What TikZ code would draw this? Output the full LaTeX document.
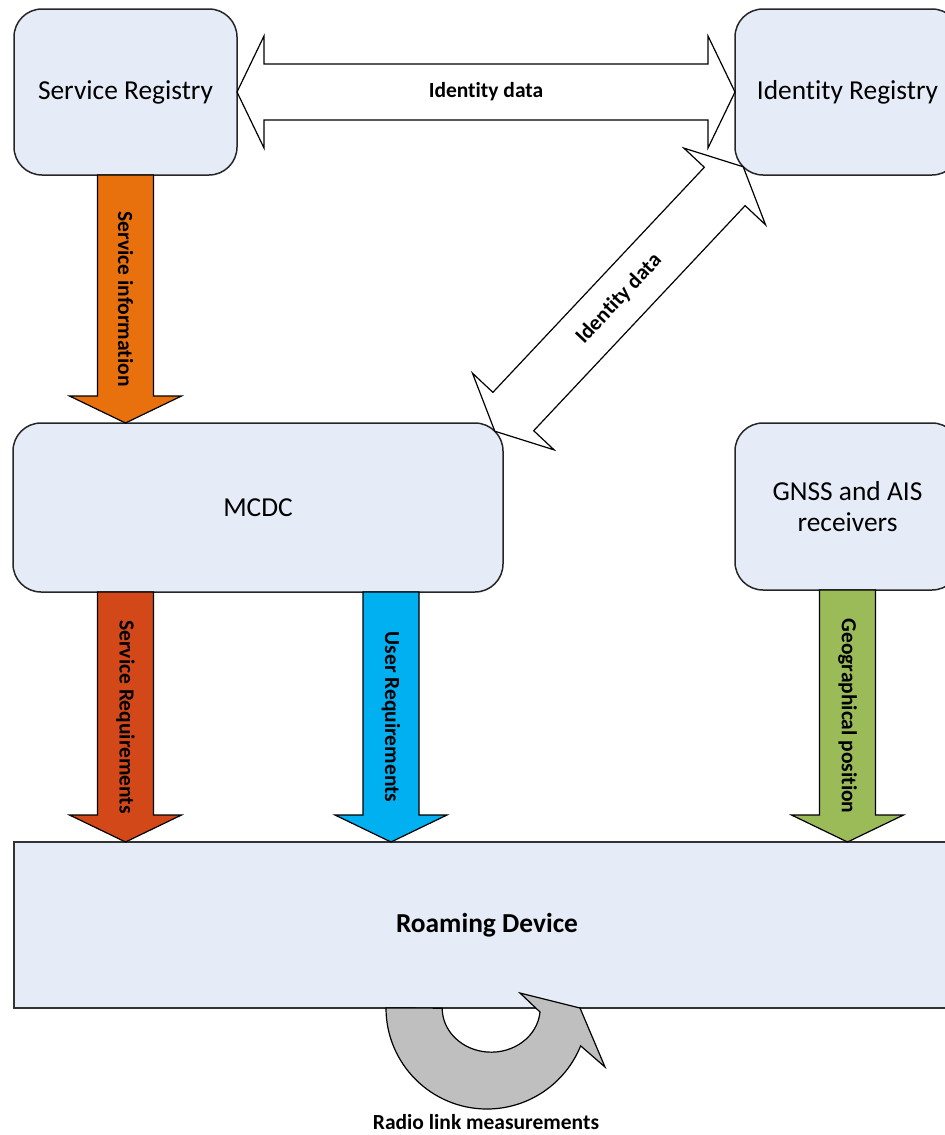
\documentclass[tikz,border=0pt]{standalone}
\usepackage{fontspec}
\setmainfont{Carlito}[Ligatures=NoCommon]
\usetikzlibrary{calc}

\definecolor{boxfill}{RGB}{230,236,247}
\definecolor{orangeA}{RGB}{232,113,13}
\definecolor{redA}{RGB}{210,72,24}
\definecolor{blueA}{RGB}{0,176,240}
\definecolor{greenA}{RGB}{155,187,89}
\definecolor{grayA}{RGB}{191,191,191}

% block arrow geometry (half shaft width, half head width, head length)
\newcommand\shaftw{14pt}
\newcommand\headw{28pt}
\newcommand\headl{13.5pt}

% single-headed block arrow from #2 to #3, label #4
\newcommand\blockarrow[4]{%
  \path[flowarrow,#1] let \p1=(#2), \p2=(#3),
      \n1={atan2(\y2-\y1,\x2-\x1)}, \n2={veclen(\x2-\x1,\y2-\y1)} in
    [shift={(\p1)}, rotate=\n1]
    (0pt,\shaftw) -- ({\n2-\headl},\shaftw) -- ({\n2-\headl},\headw)
    -- ({\n2+0pt},0pt) -- ({\n2-\headl},-\headw) -- ({\n2-\headl},-\shaftw)
    -- (0pt,-\shaftw) -- cycle
    ({\n2/2},0pt) node[arrlabel, rotate=\n1] {#4};
}

% double-headed block arrow between #2 and #3, label #4
\newcommand\blockdarrow[4]{%
  \path[flowarrow,#1] let \p1=(#2), \p2=(#3),
      \n1={atan2(\y2-\y1,\x2-\x1)}, \n2={veclen(\x2-\x1,\y2-\y1)} in
    [shift={(\p1)}, rotate=\n1]
    (\headl,\shaftw) -- ({\n2-\headl},\shaftw) -- ({\n2-\headl},\headw)
    -- ({\n2+0pt},0pt) -- ({\n2-\headl},-\headw) -- ({\n2-\headl},-\shaftw)
    -- (\headl,-\shaftw) -- (\headl,-\headw) -- (0pt,0pt) -- (\headl,\headw) -- cycle
    ({\n2/2},0pt) node[arrlabel, rotate=\n1] {#4};
}

\begin{document}
\begin{tikzpicture}[x=0.5pt,y=-0.5pt,
  regbox/.style={draw=black!85, line width=0.75pt, fill=boxfill,
    rounded corners=14pt, inner sep=0pt, outer sep=0pt, align=center,
    font=\fontsize{13.7}{15.5}\selectfont},
  devbox/.style={draw=black!80, line width=0.75pt, fill=boxfill,
    inner sep=0pt, outer sep=0pt, font=\fontsize{13.7}{15.5}\selectfont\bfseries},
  flowarrow/.style={draw=black, line width=0.6pt, line join=miter, fill=white},
  arrlabel/.style={font=\fontsize{10.75}{12}\selectfont\bfseries, inner sep=0pt}]

\useasboundingbox (0,0) rectangle (944,1135);

% boxes
\node[regbox, minimum width=111.5pt, minimum height=83pt] (sr) at (125.5,92) {Service Registry};
\node[regbox, minimum width=112.5pt, minimum height=83pt] (ir) at (847.5,92) {Identity Registry};
\node[regbox, minimum width=245pt, minimum height=84.5pt] (mcdc) at (258,507.5) {MCDC};
\node[regbox, minimum width=112.5pt, minimum height=83.5pt] (gnss) at (847.5,506.5) {GNSS and AIS\\receivers};
\node[devbox, minimum width=473pt, minimum height=83pt] (rd) at (487,925) {Roaming Device};

% attachment points on the rounded corners and the user-requirements column
\coordinate (mcdcC) at ($(mcdc.north east)+(-8.2,8.2)$);
\coordinate (irC) at ($(ir.south west)+(8.2,-8.2)$);
\coordinate (ub) at ($(mcdc.south west)+(378,0)$);

% identity data exchanges
\blockdarrow{}{sr.east}{ir.west}{Identity data}
\blockdarrow{}{mcdcC}{irC}{Identity data}

% information flows
\blockarrow{fill=orangeA}{sr.south}{sr.south |- mcdc.north}{Service information}
\blockarrow{fill=redA}{sr.south |- mcdc.south}{sr.south |- rd.north}{Service Requirements}
\blockarrow{fill=blueA}{ub}{ub |- rd.north}{User Requirements}
\blockarrow{fill=greenA}{gnss.south}{gnss.south |- rd.north}{Geographical position}

% radio link measurement loop under the roaming device
\begin{scope}[shift={(rd.south)}]
  \draw[flowarrow, fill=grayA] (-101,0) arc[start angle=180, end angle=22, radius=101]
    -- (118,59) -- (93,0) -- (33,-15) -- (53,4)
    arc[start angle=5, end angle=180, x radius=49, y radius=44] -- cycle;
\end{scope}
\node[arrlabel] (rlm) at (486,1122) {Radio link measurements};

\end{tikzpicture}
\end{document}
